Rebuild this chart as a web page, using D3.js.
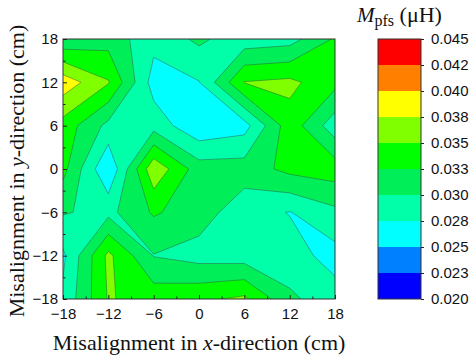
<!DOCTYPE html>
<html>
<head>
<meta charset="utf-8">
<script src="https://cdn.jsdelivr.net/npm/d3@7"></script>
<style>
  html, body { margin: 0; padding: 0; background: #fff; }
  svg { display: block; }
</style>
</head>
<body>
<svg id="chart" width="476" height="360"></svg>
<script>
// Measurement grid (cm): columns run along x, rows run along y from +18 down to -18
const xPositions = [-18, -12, -6, 0, 6, 12, 18];
const yPositions = [18, 12, 6, 0, -6, -12, -18];

// Mutual inductance M_pfs (µH) for each row, left (x = -18) to right (x = 18)
const rowY18  = [0.0305, 0.0315, 0.0283, 0.0305, 0.0285, 0.0290, 0.0328];
const rowY12  = [0.0390, 0.0352, 0.0264, 0.0274, 0.0351, 0.0356, 0.0333];
const rowY6   = [0.0340, 0.0293, 0.0290, 0.0255, 0.0265, 0.0340, 0.0285];
const rowY0   = [0.0333, 0.0251, 0.0369, 0.0312, 0.0312, 0.0332, 0.0338];
const rowYm6  = [0.0302, 0.0293, 0.0328, 0.0312, 0.0285, 0.0274, 0.0294];
const rowYm12 = [0.0270, 0.0356, 0.0299, 0.0290, 0.0288, 0.0285, 0.0266];
const rowYm18 = [0.0280, 0.0352, 0.0340, 0.0345, 0.0355, 0.0305, 0.0285];

// Contour levels, their printed labels and the fill of each band
const levels = [0.020, 0.0225, 0.025, 0.0275, 0.030, 0.0325, 0.035, 0.0375, 0.040, 0.0425, 0.045];
const levelLabels = ["0.020", "0.023", "0.025", "0.028", "0.030", "0.033", "0.035", "0.038", "0.040", "0.042", "0.045"];
const bandColors = ["#0000ff", "#0080ff", "#00ffff", "#00ffa8", "#00ee58", "#00ff00", "#80ff00", "#ffff00", "#ff8000", "#ff0000"];

// Axis ticks (cm)
const axisTicks = [-18, -12, -6, 0, 6, 12, 18];
const minorTicks = [-15, -9, -3, 3, 9, 15];

const svg = d3.select("#chart");
const plot = { left: 63, right: 335, top: 39, bottom: 299 };

const x = d3.scaleLinear().domain([-18, 18]).range([plot.left, plot.right]);
const y = d3.scaleLinear().domain([-18, 18]).range([plot.bottom, plot.top]);

// Flatten the rows (top row first) into the grid d3.contours expects
const rows = [rowY18, rowY12, rowY6, rowY0, rowYm6, rowYm12, rowYm18];
const nx = xPositions.length, ny = yPositions.length;
const values = rows.flat();

// Grid sample i sits at contour coordinate i + 0.5
const xStep = xPositions[1] - xPositions[0];
const yStep = yPositions[1] - yPositions[0];
const gridProjection = d3.geoTransform({
  point(cx, cy) {
    this.stream.point(
      x(xPositions[0] + (cx - 0.5) * xStep),
      y(yPositions[0] + (cy - 0.5) * yStep)
    );
  }
});
const path = d3.geoPath(gridProjection);

const bands = d3.contours()
  .size([nx, ny])
  .thresholds(levels.slice(0, -1))(values);

svg.append("defs").append("clipPath").attr("id", "plot-clip")
  .append("rect")
  .attr("x", plot.left).attr("y", plot.top)
  .attr("width", plot.right - plot.left).attr("height", plot.bottom - plot.top);

const field = svg.append("g").attr("clip-path", "url(#plot-clip)");

field.selectAll("path.band")
  .data(bands)
  .join("path")
  .attr("class", "band")
  .attr("d", path)
  .attr("fill", (d, i) => bandColors[i])
  .attr("stroke", "none");

field.selectAll("path.iso")
  .data(bands.slice(1))
  .join("path")
  .attr("class", "iso")
  .attr("d", path)
  .attr("fill", "none")
  .attr("stroke", "#3a4a46")
  .attr("stroke-width", 0.6)
  .attr("stroke-opacity", 0.75);

// Frame
svg.append("rect")
  .attr("x", plot.left).attr("y", plot.top)
  .attr("width", plot.right - plot.left).attr("height", plot.bottom - plot.top)
  .attr("fill", "none").attr("stroke", "#333").attr("stroke-width", 1);

const tickFont = "'Liberation Sans', Arial, sans-serif";
const titleFont = "'Liberation Serif', 'Times New Roman', serif";

function styleAxis(g) {
  g.select(".domain").remove();
  g.selectAll(".tick line").attr("stroke", "#222").attr("stroke-width", 1);
  g.selectAll("text").attr("font-family", tickFont).attr("font-size", 15).attr("fill", "#111");
}

// Bottom axis: labelled majors and short minors, ticks pointing inward
svg.append("g")
  .attr("transform", `translate(0,${plot.bottom})`)
  .call(d3.axisBottom(x).tickValues(axisTicks).tickSize(-4).tickPadding(9).tickFormat(d3.format("d")))
  .call(styleAxis);
svg.append("g")
  .attr("transform", `translate(0,${plot.bottom})`)
  .call(d3.axisBottom(x).tickValues(minorTicks).tickSize(-2.5).tickFormat(""))
  .call(styleAxis);

// Left axis
svg.append("g")
  .attr("transform", `translate(${plot.left},0)`)
  .call(d3.axisLeft(y).tickValues(axisTicks).tickSize(-4).tickPadding(5).tickFormat(d3.format("d")))
  .call(styleAxis);
svg.append("g")
  .attr("transform", `translate(${plot.left},0)`)
  .call(d3.axisLeft(y).tickValues(minorTicks).tickSize(-2.5).tickFormat(""))
  .call(styleAxis);

// Axis titles
const xTitle = svg.append("text")
  .attr("x", (plot.left + plot.right) / 2).attr("y", 350)
  .attr("text-anchor", "middle")
  .attr("font-family", titleFont).attr("font-size", 22).attr("fill", "#111");
xTitle.append("tspan").text("Misalignment in ");
xTitle.append("tspan").attr("font-style", "italic").text("x");
xTitle.append("tspan").text("-direction (cm)");

const yTitle = svg.append("text")
  .attr("transform", `translate(24,${(plot.top + plot.bottom) / 2 + 2}) rotate(-90)`)
  .attr("text-anchor", "middle")
  .attr("font-family", titleFont).attr("font-size", 22).attr("fill", "#111");
yTitle.append("tspan").text("Misalignment in ");
yTitle.append("tspan").attr("font-style", "italic").text("y");
yTitle.append("tspan").text("-direction (cm)");

// Colour scale bar
const bar = { left: 378, right: 421 };
const cb = d3.scaleLinear().domain([levels[0], levels[levels.length - 1]]).range([plot.bottom, plot.top]);

svg.append("g").selectAll("rect")
  .data(bandColors)
  .join("rect")
  .attr("x", bar.left)
  .attr("width", bar.right - bar.left)
  .attr("y", (d, i) => cb(levels[i + 1]))
  .attr("height", (d, i) => cb(levels[i]) - cb(levels[i + 1]))
  .attr("fill", d => d);

svg.append("rect")
  .attr("x", bar.left).attr("y", plot.top)
  .attr("width", bar.right - bar.left).attr("height", plot.bottom - plot.top)
  .attr("fill", "none").attr("stroke", "#333").attr("stroke-width", 1);

svg.append("g")
  .attr("transform", `translate(${bar.right},0)`)
  .call(d3.axisRight(cb).tickValues(levels).tickSize(3).tickPadding(7)
    .tickFormat((d, i) => levelLabels[i]))
  .call(styleAxis);

// Colour bar title: M_pfs (µH)
const cbTitle = svg.append("text")
  .attr("x", 357).attr("y", 22)
  .attr("font-family", titleFont).attr("font-size", 21).attr("fill", "#111");
cbTitle.append("tspan").attr("font-style", "italic").text("M");
cbTitle.append("tspan").attr("font-size", 16).attr("dy", 4).text("pfs");
cbTitle.append("tspan").attr("dy", -4).attr("font-size", 22).text(" (\u03BCH)");
</script>
</body>
</html>
